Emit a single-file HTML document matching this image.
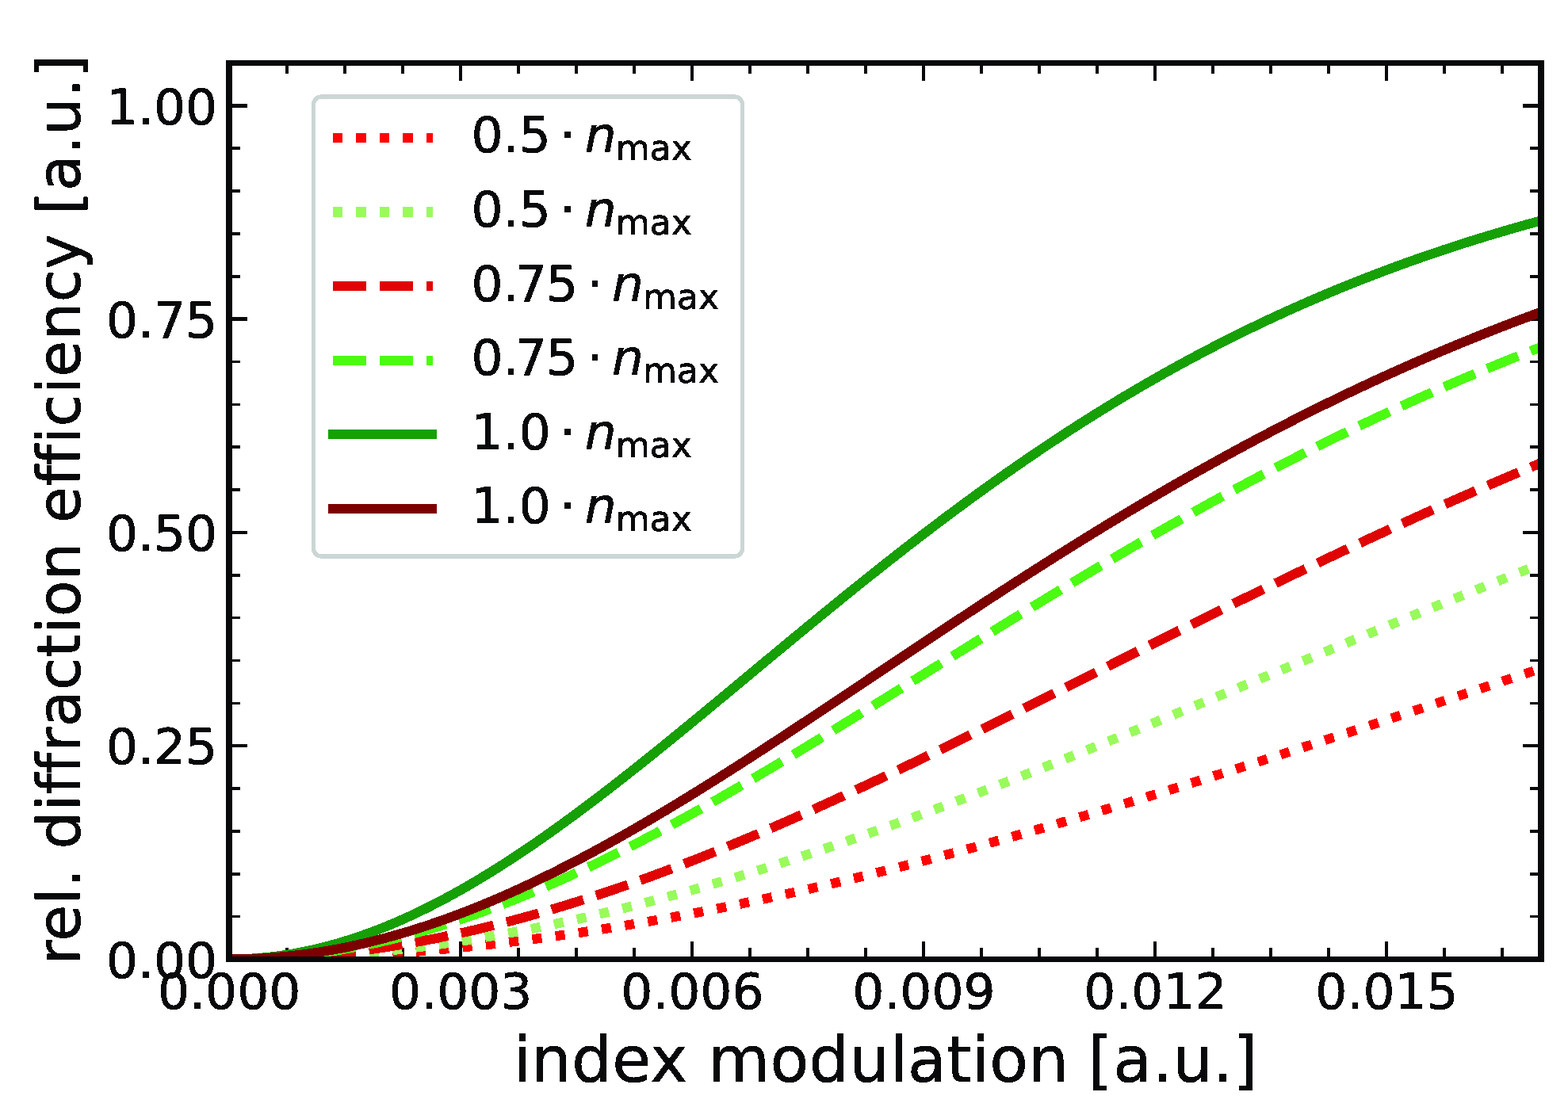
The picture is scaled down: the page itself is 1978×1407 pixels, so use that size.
<!DOCTYPE html>
<html lang="en"><head><meta charset="utf-8"><title>rel. diffraction efficiency vs index modulation</title>
<style>html,body{margin:0;padding:0;background:#fff;}body{width:1978px;height:1407px;overflow:hidden;}svg{display:block;}text{font-family:'DejaVu Sans','Liberation Sans',sans-serif;fill:#08090b;stroke:none;stroke-linejoin:round;font-variant-ligatures:none;}</style>
</head><body>
<svg width="1978" height="1407" viewBox="0 0 1978 1407">
<rect x="0" y="0" width="1978" height="1407" fill="#ffffff"/>
<defs><clipPath id="ax"><rect x="289.00" y="79.50" width="1655.00" height="1131.00"/></clipPath>
<filter id="hard" x="-1%" y="-1%" width="102%" height="102%" filterUnits="objectBoundingBox" color-interpolation-filters="sRGB"><feComponentTransfer><feFuncA type="discrete" tableValues="0 1 1 1 1 1 1 1 1 1 1 1"/></feComponentTransfer></filter>
<filter id="hardv" x="-2%" y="-1%" width="104%" height="102%" filterUnits="objectBoundingBox" color-interpolation-filters="sRGB"><feOffset in="SourceGraphic" dx="-1" dy="0" result="a"/><feMerge result="m"><feMergeNode in="a"/><feMergeNode in="SourceGraphic"/></feMerge><feComponentTransfer in="m"><feFuncA type="discrete" tableValues="0 0 1 1 1 1"/></feComponentTransfer></filter>
</defs>
<g stroke="#08090b" fill="none" shape-rendering="crispEdges">
<path d="M289.00 1210.50 v-22.80 M289.00 79.50 v22.80" stroke-width="4.4"/>
<path d="M362.01 1210.50 v-14.20 M362.01 79.50 v13.50" stroke-width="3.7"/>
<path d="M435.03 1210.50 v-14.20 M435.03 79.50 v13.50" stroke-width="3.7"/>
<path d="M508.04 1210.50 v-14.20 M508.04 79.50 v13.50" stroke-width="3.7"/>
<path d="M581.06 1210.50 v-22.80 M581.06 79.50 v22.80" stroke-width="4.4"/>
<path d="M654.07 1210.50 v-14.20 M654.07 79.50 v13.50" stroke-width="3.7"/>
<path d="M727.09 1210.50 v-14.20 M727.09 79.50 v13.50" stroke-width="3.7"/>
<path d="M800.10 1210.50 v-14.20 M800.10 79.50 v13.50" stroke-width="3.7"/>
<path d="M873.12 1210.50 v-22.80 M873.12 79.50 v22.80" stroke-width="4.4"/>
<path d="M946.13 1210.50 v-14.20 M946.13 79.50 v13.50" stroke-width="3.7"/>
<path d="M1019.15 1210.50 v-14.20 M1019.15 79.50 v13.50" stroke-width="3.7"/>
<path d="M1092.16 1210.50 v-14.20 M1092.16 79.50 v13.50" stroke-width="3.7"/>
<path d="M1165.18 1210.50 v-22.80 M1165.18 79.50 v22.80" stroke-width="4.4"/>
<path d="M1238.19 1210.50 v-14.20 M1238.19 79.50 v13.50" stroke-width="3.7"/>
<path d="M1311.21 1210.50 v-14.20 M1311.21 79.50 v13.50" stroke-width="3.7"/>
<path d="M1384.22 1210.50 v-14.20 M1384.22 79.50 v13.50" stroke-width="3.7"/>
<path d="M1457.24 1210.50 v-22.80 M1457.24 79.50 v22.80" stroke-width="4.4"/>
<path d="M1530.25 1210.50 v-14.20 M1530.25 79.50 v13.50" stroke-width="3.7"/>
<path d="M1603.26 1210.50 v-14.20 M1603.26 79.50 v13.50" stroke-width="3.7"/>
<path d="M1676.28 1210.50 v-14.20 M1676.28 79.50 v13.50" stroke-width="3.7"/>
<path d="M1749.29 1210.50 v-22.80 M1749.29 79.50 v22.80" stroke-width="4.4"/>
<path d="M1822.31 1210.50 v-14.20 M1822.31 79.50 v13.50" stroke-width="3.7"/>
<path d="M1895.32 1210.50 v-14.20 M1895.32 79.50 v13.50" stroke-width="3.7"/>
<path d="M289.00 1210.50 h22.80 M1944.00 1210.50 h-22.80" stroke-width="4.4"/>
<path d="M289.00 1156.64 h14.20 M1944.00 1156.64 h-14.20" stroke-width="3.7"/>
<path d="M289.00 1102.79 h14.20 M1944.00 1102.79 h-14.20" stroke-width="3.7"/>
<path d="M289.00 1048.93 h14.20 M1944.00 1048.93 h-14.20" stroke-width="3.7"/>
<path d="M289.00 995.07 h14.20 M1944.00 995.07 h-14.20" stroke-width="3.7"/>
<path d="M289.00 941.21 h22.80 M1944.00 941.21 h-22.80" stroke-width="4.4"/>
<path d="M289.00 887.36 h14.20 M1944.00 887.36 h-14.20" stroke-width="3.7"/>
<path d="M289.00 833.50 h14.20 M1944.00 833.50 h-14.20" stroke-width="3.7"/>
<path d="M289.00 779.64 h14.20 M1944.00 779.64 h-14.20" stroke-width="3.7"/>
<path d="M289.00 725.79 h14.20 M1944.00 725.79 h-14.20" stroke-width="3.7"/>
<path d="M289.00 671.93 h22.80 M1944.00 671.93 h-22.80" stroke-width="4.4"/>
<path d="M289.00 618.07 h14.20 M1944.00 618.07 h-14.20" stroke-width="3.7"/>
<path d="M289.00 564.21 h14.20 M1944.00 564.21 h-14.20" stroke-width="3.7"/>
<path d="M289.00 510.36 h14.20 M1944.00 510.36 h-14.20" stroke-width="3.7"/>
<path d="M289.00 456.50 h14.20 M1944.00 456.50 h-14.20" stroke-width="3.7"/>
<path d="M289.00 402.64 h22.80 M1944.00 402.64 h-22.80" stroke-width="4.4"/>
<path d="M289.00 348.79 h14.20 M1944.00 348.79 h-14.20" stroke-width="3.7"/>
<path d="M289.00 294.93 h14.20 M1944.00 294.93 h-14.20" stroke-width="3.7"/>
<path d="M289.00 241.07 h14.20 M1944.00 241.07 h-14.20" stroke-width="3.7"/>
<path d="M289.00 187.21 h14.20 M1944.00 187.21 h-14.20" stroke-width="3.7"/>
<path d="M289.00 133.36 h22.80 M1944.00 133.36 h-22.80" stroke-width="4.4"/>
<path d="M289.00 79.50 h14.20 M1944.00 79.50 h-14.20" stroke-width="3.7"/>
</g>
<g clip-path="url(#ax)" fill="none" stroke-width="12.13" stroke-linejoin="round" shape-rendering="crispEdges">
<path d="M289.00 1210.50 L295.90 1210.49 L302.79 1210.47 L309.69 1210.42 L316.58 1210.37 L323.48 1210.29 L330.38 1210.20 L337.27 1210.09 L344.17 1209.97 L351.06 1209.82 L357.96 1209.67 L364.85 1209.49 L371.75 1209.30 L378.65 1209.09 L385.54 1208.87 L392.44 1208.62 L399.33 1208.37 L406.23 1208.09 L413.12 1207.80 L420.02 1207.49 L426.92 1207.17 L433.81 1206.83 L440.71 1206.47 L447.60 1206.10 L454.50 1205.71 L461.40 1205.30 L468.29 1204.88 L475.19 1204.44 L482.08 1203.98 L488.98 1203.51 L495.88 1203.02 L502.77 1202.52 L509.67 1202.00 L516.56 1201.46 L523.46 1200.91 L530.35 1200.34 L537.25 1199.75 L544.15 1199.15 L551.04 1198.53 L557.94 1197.90 L564.83 1197.25 L571.73 1196.59 L578.62 1195.91 L585.52 1195.21 L592.42 1194.50 L599.31 1193.77 L606.21 1193.02 L613.10 1192.27 L620.00 1191.49 L626.90 1190.70 L633.79 1189.89 L640.69 1189.07 L647.58 1188.24 L654.48 1187.38 L661.38 1186.52 L668.27 1185.63 L675.17 1184.74 L682.06 1183.82 L688.96 1182.89 L695.85 1181.95 L702.75 1180.99 L709.65 1180.02 L716.54 1179.03 L723.44 1178.03 L730.33 1177.01 L737.23 1175.98 L744.12 1174.93 L751.02 1173.87 L757.92 1172.80 L764.81 1171.71 L771.71 1170.60 L778.60 1169.48 L785.50 1168.35 L792.40 1167.20 L799.29 1166.04 L806.19 1164.87 L813.08 1163.68 L819.98 1162.48 L826.88 1161.26 L833.77 1160.03 L840.67 1158.78 L847.56 1157.53 L854.46 1156.25 L861.35 1154.97 L868.25 1153.67 L875.15 1152.36 L882.04 1151.03 L888.94 1149.70 L895.83 1148.35 L902.73 1146.98 L909.62 1145.60 L916.52 1144.21 L923.42 1142.81 L930.31 1141.40 L937.21 1139.97 L944.10 1138.53 L951.00 1137.08 L957.90 1135.61 L964.79 1134.13 L971.69 1132.64 L978.58 1131.14 L985.48 1129.63 L992.38 1128.10 L999.27 1126.56 L1006.17 1125.01 L1013.06 1123.45 L1019.96 1121.88 L1026.85 1120.29 L1033.75 1118.70 L1040.65 1117.09 L1047.54 1115.47 L1054.44 1113.84 L1061.33 1112.20 L1068.23 1110.55 L1075.12 1108.89 L1082.02 1107.21 L1088.92 1105.53 L1095.81 1103.83 L1102.71 1102.13 L1109.60 1100.41 L1116.50 1098.68 L1123.40 1096.95 L1130.29 1095.20 L1137.19 1093.44 L1144.08 1091.67 L1150.98 1089.90 L1157.88 1088.11 L1164.77 1086.31 L1171.67 1084.51 L1178.56 1082.69 L1185.46 1080.87 L1192.35 1079.03 L1199.25 1077.19 L1206.15 1075.33 L1213.04 1073.47 L1219.94 1071.60 L1226.83 1069.72 L1233.73 1067.83 L1240.62 1065.93 L1247.52 1064.02 L1254.42 1062.11 L1261.31 1060.18 L1268.21 1058.25 L1275.10 1056.31 L1282.00 1054.36 L1288.90 1052.41 L1295.79 1050.44 L1302.69 1048.47 L1309.58 1046.49 L1316.48 1044.50 L1323.38 1042.51 L1330.27 1040.50 L1337.17 1038.49 L1344.06 1036.48 L1350.96 1034.45 L1357.85 1032.42 L1364.75 1030.38 L1371.65 1028.33 L1378.54 1026.28 L1385.44 1024.22 L1392.33 1022.16 L1399.23 1020.08 L1406.12 1018.00 L1413.02 1015.92 L1419.92 1013.83 L1426.81 1011.73 L1433.71 1009.62 L1440.60 1007.51 L1447.50 1005.40 L1454.40 1003.28 L1461.29 1001.15 L1468.19 999.02 L1475.08 996.88 L1481.98 994.73 L1488.88 992.58 L1495.77 990.43 L1502.67 988.27 L1509.56 986.11 L1516.46 983.94 L1523.35 981.76 L1530.25 979.58 L1537.15 977.40 L1544.04 975.21 L1550.94 973.02 L1557.83 970.82 L1564.73 968.62 L1571.62 966.41 L1578.52 964.20 L1585.42 961.99 L1592.31 959.77 L1599.21 957.55 L1606.10 955.32 L1613.00 953.09 L1619.90 950.86 L1626.79 948.62 L1633.69 946.38 L1640.58 944.14 L1647.48 941.89 L1654.38 939.64 L1661.27 937.39 L1668.17 935.13 L1675.06 932.87 L1681.96 930.61 L1688.85 928.35 L1695.75 926.08 L1702.65 923.81 L1709.54 921.54 L1716.44 919.27 L1723.33 916.99 L1730.23 914.71 L1737.12 912.43 L1744.02 910.15 L1750.92 907.86 L1757.81 905.57 L1764.71 903.29 L1771.60 900.99 L1778.50 898.70 L1785.40 896.41 L1792.29 894.11 L1799.19 891.82 L1806.08 889.52 L1812.98 887.22 L1819.88 884.92 L1826.77 882.62 L1833.67 880.32 L1840.56 878.01 L1847.46 875.71 L1854.35 873.40 L1861.25 871.10 L1868.15 868.79 L1875.04 866.49 L1881.94 864.18 L1888.83 861.87 L1895.73 859.56 L1902.62 857.26 L1909.52 854.95 L1916.42 852.64 L1923.31 850.33 L1930.21 848.02 L1937.10 845.71 L1944.00 843.40" stroke="#ff0404" stroke-dasharray="12.13 17.37"/>
<path d="M289.00 1210.50 L295.90 1210.49 L302.79 1210.45 L309.69 1210.38 L316.58 1210.29 L323.48 1210.18 L330.38 1210.04 L337.27 1209.87 L344.17 1209.68 L351.06 1209.46 L357.96 1209.21 L364.85 1208.94 L371.75 1208.65 L378.65 1208.33 L385.54 1207.98 L392.44 1207.61 L399.33 1207.21 L406.23 1206.78 L413.12 1206.34 L420.02 1205.86 L426.92 1205.36 L433.81 1204.84 L440.71 1204.29 L447.60 1203.71 L454.50 1203.11 L461.40 1202.49 L468.29 1201.84 L475.19 1201.16 L482.08 1200.46 L488.98 1199.74 L495.88 1198.99 L502.77 1198.21 L509.67 1197.41 L516.56 1196.59 L523.46 1195.74 L530.35 1194.87 L537.25 1193.97 L544.15 1193.05 L551.04 1192.10 L557.94 1191.14 L564.83 1190.14 L571.73 1189.13 L578.62 1188.08 L585.52 1187.02 L592.42 1185.93 L599.31 1184.82 L606.21 1183.69 L613.10 1182.53 L620.00 1181.35 L626.90 1180.14 L633.79 1178.92 L640.69 1177.67 L647.58 1176.39 L654.48 1175.10 L661.38 1173.78 L668.27 1172.44 L675.17 1171.08 L682.06 1169.69 L688.96 1168.29 L695.85 1166.86 L702.75 1165.41 L709.65 1163.94 L716.54 1162.45 L723.44 1160.93 L730.33 1159.40 L737.23 1157.84 L744.12 1156.26 L751.02 1154.66 L757.92 1153.05 L764.81 1151.41 L771.71 1149.75 L778.60 1148.07 L785.50 1146.37 L792.40 1144.65 L799.29 1142.91 L806.19 1141.15 L813.08 1139.37 L819.98 1137.57 L826.88 1135.75 L833.77 1133.92 L840.67 1132.06 L847.56 1130.19 L854.46 1128.30 L861.35 1126.39 L868.25 1124.46 L875.15 1122.51 L882.04 1120.55 L888.94 1118.56 L895.83 1116.56 L902.73 1114.55 L909.62 1112.51 L916.52 1110.46 L923.42 1108.39 L930.31 1106.31 L937.21 1104.21 L944.10 1102.09 L951.00 1099.95 L957.90 1097.80 L964.79 1095.64 L971.69 1093.46 L978.58 1091.26 L985.48 1089.05 L992.38 1086.82 L999.27 1084.58 L1006.17 1082.32 L1013.06 1080.05 L1019.96 1077.76 L1026.85 1075.46 L1033.75 1073.15 L1040.65 1070.82 L1047.54 1068.48 L1054.44 1066.12 L1061.33 1063.75 L1068.23 1061.37 L1075.12 1058.98 L1082.02 1056.57 L1088.92 1054.15 L1095.81 1051.71 L1102.71 1049.27 L1109.60 1046.81 L1116.50 1044.34 L1123.40 1041.86 L1130.29 1039.37 L1137.19 1036.87 L1144.08 1034.35 L1150.98 1031.82 L1157.88 1029.29 L1164.77 1026.74 L1171.67 1024.18 L1178.56 1021.61 L1185.46 1019.04 L1192.35 1016.45 L1199.25 1013.85 L1206.15 1011.24 L1213.04 1008.63 L1219.94 1006.00 L1226.83 1003.37 L1233.73 1000.72 L1240.62 998.07 L1247.52 995.41 L1254.42 992.74 L1261.31 990.06 L1268.21 987.38 L1275.10 984.69 L1282.00 981.99 L1288.90 979.28 L1295.79 976.56 L1302.69 973.84 L1309.58 971.11 L1316.48 968.38 L1323.38 965.64 L1330.27 962.89 L1337.17 960.13 L1344.06 957.37 L1350.96 954.61 L1357.85 951.84 L1364.75 949.06 L1371.65 946.28 L1378.54 943.49 L1385.44 940.70 L1392.33 937.90 L1399.23 935.10 L1406.12 932.29 L1413.02 929.48 L1419.92 926.66 L1426.81 923.84 L1433.71 921.02 L1440.60 918.20 L1447.50 915.37 L1454.40 912.53 L1461.29 909.70 L1468.19 906.86 L1475.08 904.01 L1481.98 901.17 L1488.88 898.32 L1495.77 895.47 L1502.67 892.62 L1509.56 889.76 L1516.46 886.91 L1523.35 884.05 L1530.25 881.19 L1537.15 878.33 L1544.04 875.47 L1550.94 872.60 L1557.83 869.74 L1564.73 866.87 L1571.62 864.01 L1578.52 861.14 L1585.42 858.27 L1592.31 855.41 L1599.21 852.54 L1606.10 849.67 L1613.00 846.80 L1619.90 843.93 L1626.79 841.07 L1633.69 838.20 L1640.58 835.33 L1647.48 832.47 L1654.38 829.60 L1661.27 826.74 L1668.17 823.88 L1675.06 821.02 L1681.96 818.16 L1688.85 815.30 L1695.75 812.44 L1702.65 809.59 L1709.54 806.73 L1716.44 803.88 L1723.33 801.03 L1730.23 798.19 L1737.12 795.34 L1744.02 792.50 L1750.92 789.66 L1757.81 786.83 L1764.71 783.99 L1771.60 781.16 L1778.50 778.33 L1785.40 775.51 L1792.29 772.69 L1799.19 769.87 L1806.08 767.06 L1812.98 764.25 L1819.88 761.44 L1826.77 758.63 L1833.67 755.84 L1840.56 753.04 L1847.46 750.25 L1854.35 747.46 L1861.25 744.68 L1868.15 741.90 L1875.04 739.12 L1881.94 736.35 L1888.83 733.59 L1895.73 730.83 L1902.62 728.07 L1909.52 725.32 L1916.42 722.58 L1923.31 719.84 L1930.21 717.10 L1937.10 714.37 L1944.00 711.65" stroke="#99fa5c" stroke-dasharray="12.13 17.37"/>
<path d="M289.00 1210.50 L295.90 1210.48 L302.79 1210.42 L309.69 1210.33 L316.58 1210.20 L323.48 1210.03 L330.38 1209.82 L337.27 1209.58 L344.17 1209.30 L351.06 1208.98 L357.96 1208.62 L364.85 1208.23 L371.75 1207.80 L378.65 1207.33 L385.54 1206.83 L392.44 1206.28 L399.33 1205.71 L406.23 1205.09 L413.12 1204.44 L420.02 1203.75 L426.92 1203.02 L433.81 1202.26 L440.71 1201.46 L447.60 1200.62 L454.50 1199.75 L461.40 1198.84 L468.29 1197.90 L475.19 1196.92 L482.08 1195.91 L488.98 1194.85 L495.88 1193.77 L502.77 1192.65 L509.67 1191.49 L516.56 1190.30 L523.46 1189.07 L530.35 1187.81 L537.25 1186.52 L544.15 1185.19 L551.04 1183.82 L557.94 1182.42 L564.83 1180.99 L571.73 1179.53 L578.62 1178.03 L585.52 1176.50 L592.42 1174.93 L599.31 1173.34 L606.21 1171.71 L613.10 1170.05 L620.00 1168.35 L626.90 1166.63 L633.79 1164.87 L640.69 1163.08 L647.58 1161.26 L654.48 1159.41 L661.38 1157.53 L668.27 1155.61 L675.17 1153.67 L682.06 1151.70 L688.96 1149.70 L695.85 1147.67 L702.75 1145.60 L709.65 1143.52 L716.54 1141.40 L723.44 1139.25 L730.33 1137.08 L737.23 1134.87 L744.12 1132.64 L751.02 1130.38 L757.92 1128.10 L764.81 1125.79 L771.71 1123.45 L778.60 1121.09 L785.50 1118.70 L792.40 1116.28 L799.29 1113.84 L806.19 1111.38 L813.08 1108.89 L819.98 1106.37 L826.88 1103.83 L833.77 1101.27 L840.67 1098.68 L847.56 1096.07 L854.46 1093.44 L861.35 1090.79 L868.25 1088.11 L875.15 1085.41 L882.04 1082.69 L888.94 1079.95 L895.83 1077.19 L902.73 1074.40 L909.62 1071.60 L916.52 1068.77 L923.42 1065.93 L930.31 1063.07 L937.21 1060.18 L944.10 1057.28 L951.00 1054.36 L957.90 1051.43 L964.79 1048.47 L971.69 1045.50 L978.58 1042.51 L985.48 1039.50 L992.38 1036.48 L999.27 1033.44 L1006.17 1030.38 L1013.06 1027.31 L1019.96 1024.22 L1026.85 1021.12 L1033.75 1018.00 L1040.65 1014.87 L1047.54 1011.73 L1054.44 1008.57 L1061.33 1005.40 L1068.23 1002.21 L1075.12 999.02 L1082.02 995.81 L1088.92 992.58 L1095.81 989.35 L1102.71 986.11 L1109.60 982.85 L1116.50 979.58 L1123.40 976.30 L1130.29 973.02 L1137.19 969.72 L1144.08 966.41 L1150.98 963.09 L1157.88 959.77 L1164.77 956.43 L1171.67 953.09 L1178.56 949.74 L1185.46 946.38 L1192.35 943.01 L1199.25 939.64 L1206.15 936.26 L1213.04 932.87 L1219.94 929.48 L1226.83 926.08 L1233.73 922.68 L1240.62 919.27 L1247.52 915.85 L1254.42 912.43 L1261.31 909.00 L1268.21 905.57 L1275.10 902.14 L1282.00 898.70 L1288.90 895.26 L1295.79 891.82 L1302.69 888.37 L1309.58 884.92 L1316.48 881.47 L1323.38 878.01 L1330.27 874.56 L1337.17 871.10 L1344.06 867.64 L1350.96 864.18 L1357.85 860.72 L1364.75 857.26 L1371.65 853.79 L1378.54 850.33 L1385.44 846.87 L1392.33 843.40 L1399.23 839.94 L1406.12 836.48 L1413.02 833.02 L1419.92 829.56 L1426.81 826.11 L1433.71 822.65 L1440.60 819.20 L1447.50 815.75 L1454.40 812.30 L1461.29 808.85 L1468.19 805.41 L1475.08 801.96 L1481.98 798.53 L1488.88 795.09 L1495.77 791.66 L1502.67 788.24 L1509.56 784.81 L1516.46 781.39 L1523.35 777.98 L1530.25 774.57 L1537.15 771.17 L1544.04 767.77 L1550.94 764.37 L1557.83 760.98 L1564.73 757.60 L1571.62 754.22 L1578.52 750.85 L1585.42 747.48 L1592.31 744.12 L1599.21 740.77 L1606.10 737.42 L1613.00 734.08 L1619.90 730.75 L1626.79 727.42 L1633.69 724.10 L1640.58 720.79 L1647.48 717.49 L1654.38 714.19 L1661.27 710.90 L1668.17 707.62 L1675.06 704.35 L1681.96 701.08 L1688.85 697.82 L1695.75 694.58 L1702.65 691.34 L1709.54 688.11 L1716.44 684.88 L1723.33 681.67 L1730.23 678.47 L1737.12 675.27 L1744.02 672.08 L1750.92 668.91 L1757.81 665.74 L1764.71 662.58 L1771.60 659.44 L1778.50 656.30 L1785.40 653.17 L1792.29 650.05 L1799.19 646.94 L1806.08 643.85 L1812.98 640.76 L1819.88 637.68 L1826.77 634.62 L1833.67 631.56 L1840.56 628.51 L1847.46 625.48 L1854.35 622.46 L1861.25 619.44 L1868.15 616.44 L1875.04 613.45 L1881.94 610.47 L1888.83 607.50 L1895.73 604.54 L1902.62 601.60 L1909.52 598.66 L1916.42 595.74 L1923.31 592.83 L1930.21 589.93 L1937.10 587.04 L1944.00 584.16" stroke="#e00404" stroke-dasharray="42.2 16.8"/>
<path d="M289.00 1210.50 L295.90 1210.47 L302.79 1210.38 L309.69 1210.24 L316.58 1210.04 L323.48 1209.78 L330.38 1209.46 L337.27 1209.08 L344.17 1208.65 L351.06 1208.15 L357.96 1207.61 L364.85 1207.00 L371.75 1206.34 L378.65 1205.61 L385.54 1204.84 L392.44 1204.00 L399.33 1203.11 L406.23 1202.16 L413.12 1201.16 L420.02 1200.10 L426.92 1198.99 L433.81 1197.81 L440.71 1196.59 L447.60 1195.31 L454.50 1193.97 L461.40 1192.58 L468.29 1191.14 L475.19 1189.64 L482.08 1188.08 L488.98 1186.48 L495.88 1184.82 L502.77 1183.11 L509.67 1181.35 L516.56 1179.53 L523.46 1177.67 L530.35 1175.75 L537.25 1173.78 L544.15 1171.76 L551.04 1169.69 L557.94 1167.58 L564.83 1165.41 L571.73 1163.19 L578.62 1160.93 L585.52 1158.62 L592.42 1156.26 L599.31 1153.86 L606.21 1151.41 L613.10 1148.91 L620.00 1146.37 L626.90 1143.78 L633.79 1141.15 L640.69 1138.47 L647.58 1135.75 L654.48 1132.99 L661.38 1130.19 L668.27 1127.34 L675.17 1124.46 L682.06 1121.53 L688.96 1118.56 L695.85 1115.56 L702.75 1112.51 L709.65 1109.43 L716.54 1106.31 L723.44 1103.15 L730.33 1099.95 L737.23 1096.72 L744.12 1093.46 L751.02 1090.16 L757.92 1086.82 L764.81 1083.45 L771.71 1080.05 L778.60 1076.61 L785.50 1073.15 L792.40 1069.65 L799.29 1066.12 L806.19 1062.56 L813.08 1058.98 L819.98 1055.36 L826.88 1051.71 L833.77 1048.04 L840.67 1044.34 L847.56 1040.62 L854.46 1036.87 L861.35 1033.09 L868.25 1029.29 L875.15 1025.46 L882.04 1021.61 L888.94 1017.74 L895.83 1013.85 L902.73 1009.94 L909.62 1006.00 L916.52 1002.05 L923.42 998.07 L930.31 994.08 L937.21 990.06 L944.10 986.03 L951.00 981.99 L957.90 977.92 L964.79 973.84 L971.69 969.75 L978.58 965.64 L985.48 961.51 L992.38 957.37 L999.27 953.22 L1006.17 949.06 L1013.06 944.88 L1019.96 940.70 L1026.85 936.50 L1033.75 932.29 L1040.65 928.07 L1047.54 923.84 L1054.44 919.61 L1061.33 915.37 L1068.23 911.11 L1075.12 906.86 L1082.02 902.59 L1088.92 898.32 L1095.81 894.05 L1102.71 889.76 L1109.60 885.48 L1116.50 881.19 L1123.40 876.90 L1130.29 872.60 L1137.19 868.31 L1144.08 864.01 L1150.98 859.71 L1157.88 855.41 L1164.77 851.10 L1171.67 846.80 L1178.56 842.50 L1185.46 838.20 L1192.35 833.90 L1199.25 829.60 L1206.15 825.31 L1213.04 821.02 L1219.94 816.73 L1226.83 812.44 L1233.73 808.16 L1240.62 803.88 L1247.52 799.61 L1254.42 795.34 L1261.31 791.08 L1268.21 786.83 L1275.10 782.58 L1282.00 778.33 L1288.90 774.10 L1295.79 769.87 L1302.69 765.65 L1309.58 761.44 L1316.48 757.23 L1323.38 753.04 L1330.27 748.85 L1337.17 744.68 L1344.06 740.51 L1350.96 736.35 L1357.85 732.21 L1364.75 728.07 L1371.65 723.95 L1378.54 719.84 L1385.44 715.73 L1392.33 711.65 L1399.23 707.57 L1406.12 703.50 L1413.02 699.45 L1419.92 695.41 L1426.81 691.38 L1433.71 687.37 L1440.60 683.37 L1447.50 679.39 L1454.40 675.41 L1461.29 671.46 L1468.19 667.52 L1475.08 663.59 L1481.98 659.67 L1488.88 655.78 L1495.77 651.89 L1502.67 648.03 L1509.56 644.18 L1516.46 640.34 L1523.35 636.52 L1530.25 632.72 L1537.15 628.93 L1544.04 625.16 L1550.94 621.41 L1557.83 617.67 L1564.73 613.95 L1571.62 610.25 L1578.52 606.56 L1585.42 602.90 L1592.31 599.24 L1599.21 595.61 L1606.10 592.00 L1613.00 588.40 L1619.90 584.82 L1626.79 581.26 L1633.69 577.72 L1640.58 574.19 L1647.48 570.68 L1654.38 567.20 L1661.27 563.73 L1668.17 560.28 L1675.06 556.84 L1681.96 553.43 L1688.85 550.03 L1695.75 546.66 L1702.65 543.30 L1709.54 539.96 L1716.44 536.64 L1723.33 533.34 L1730.23 530.06 L1737.12 526.80 L1744.02 523.56 L1750.92 520.33 L1757.81 517.13 L1764.71 513.94 L1771.60 510.78 L1778.50 507.63 L1785.40 504.50 L1792.29 501.39 L1799.19 498.31 L1806.08 495.24 L1812.98 492.19 L1819.88 489.15 L1826.77 486.14 L1833.67 483.15 L1840.56 480.18 L1847.46 477.22 L1854.35 474.29 L1861.25 471.38 L1868.15 468.48 L1875.04 465.60 L1881.94 462.75 L1888.83 459.91 L1895.73 457.09 L1902.62 454.29 L1909.52 451.51 L1916.42 448.75 L1923.31 446.00 L1930.21 443.28 L1937.10 440.58 L1944.00 437.89" stroke="#4cfb12" stroke-dasharray="42.2 16.8"/>
<path d="M289.00 1210.50 L295.90 1210.45 L302.79 1210.29 L309.69 1210.04 L316.58 1209.68 L323.48 1209.21 L330.38 1208.65 L337.27 1207.98 L344.17 1207.21 L351.06 1206.34 L357.96 1205.36 L364.85 1204.29 L371.75 1203.11 L378.65 1201.84 L385.54 1200.46 L392.44 1198.99 L399.33 1197.41 L406.23 1195.74 L413.12 1193.97 L420.02 1192.10 L426.92 1190.14 L433.81 1188.08 L440.71 1185.93 L447.60 1183.69 L454.50 1181.35 L461.40 1178.92 L468.29 1176.39 L475.19 1173.78 L482.08 1171.08 L488.98 1168.29 L495.88 1165.41 L502.77 1162.45 L509.67 1159.40 L516.56 1156.26 L523.46 1153.05 L530.35 1149.75 L537.25 1146.37 L544.15 1142.91 L551.04 1139.37 L557.94 1135.75 L564.83 1132.06 L571.73 1128.30 L578.62 1124.46 L585.52 1120.55 L592.42 1116.56 L599.31 1112.51 L606.21 1108.39 L613.10 1104.21 L620.00 1099.95 L626.90 1095.64 L633.79 1091.26 L640.69 1086.82 L647.58 1082.32 L654.48 1077.76 L661.38 1073.15 L668.27 1068.48 L675.17 1063.75 L682.06 1058.98 L688.96 1054.15 L695.85 1049.27 L702.75 1044.34 L709.65 1039.37 L716.54 1034.35 L723.44 1029.29 L730.33 1024.18 L737.23 1019.04 L744.12 1013.85 L751.02 1008.63 L757.92 1003.37 L764.81 998.07 L771.71 992.74 L778.60 987.38 L785.50 981.99 L792.40 976.56 L799.29 971.11 L806.19 965.64 L813.08 960.13 L819.98 954.61 L826.88 949.06 L833.77 943.49 L840.67 937.90 L847.56 932.29 L854.46 926.66 L861.35 921.02 L868.25 915.37 L875.15 909.70 L882.04 904.01 L888.94 898.32 L895.83 892.62 L902.73 886.91 L909.62 881.19 L916.52 875.47 L923.42 869.74 L930.31 864.01 L937.21 858.27 L944.10 852.54 L951.00 846.80 L957.90 841.07 L964.79 835.33 L971.69 829.60 L978.58 823.88 L985.48 818.16 L992.38 812.44 L999.27 806.73 L1006.17 801.03 L1013.06 795.34 L1019.96 789.66 L1026.85 783.99 L1033.75 778.33 L1040.65 772.69 L1047.54 767.06 L1054.44 761.44 L1061.33 755.84 L1068.23 750.25 L1075.12 744.68 L1082.02 739.12 L1088.92 733.59 L1095.81 728.07 L1102.71 722.58 L1109.60 717.10 L1116.50 711.65 L1123.40 706.21 L1130.29 700.80 L1137.19 695.41 L1144.08 690.04 L1150.98 684.70 L1157.88 679.39 L1164.77 674.09 L1171.67 668.83 L1178.56 663.59 L1185.46 658.37 L1192.35 653.19 L1199.25 648.03 L1206.15 642.90 L1213.04 637.79 L1219.94 632.72 L1226.83 627.67 L1233.73 622.66 L1240.62 617.67 L1247.52 612.72 L1254.42 607.79 L1261.31 602.90 L1268.21 598.03 L1275.10 593.20 L1282.00 588.40 L1288.90 583.63 L1295.79 578.90 L1302.69 574.19 L1309.58 569.52 L1316.48 564.88 L1323.38 560.28 L1330.27 555.70 L1337.17 551.16 L1344.06 546.66 L1350.96 542.19 L1357.85 537.75 L1364.75 533.34 L1371.65 528.97 L1378.54 524.64 L1385.44 520.33 L1392.33 516.06 L1399.23 511.83 L1406.12 507.63 L1413.02 503.46 L1419.92 499.33 L1426.81 495.24 L1433.71 491.17 L1440.60 487.15 L1447.50 483.15 L1454.40 479.19 L1461.29 475.27 L1468.19 471.38 L1475.08 467.52 L1481.98 463.70 L1488.88 459.91 L1495.77 456.15 L1502.67 452.43 L1509.56 448.75 L1516.46 445.09 L1523.35 441.47 L1530.25 437.89 L1537.15 434.34 L1544.04 430.82 L1550.94 427.34 L1557.83 423.88 L1564.73 420.47 L1571.62 417.08 L1578.52 413.73 L1585.42 410.41 L1592.31 407.12 L1599.21 403.87 L1606.10 400.64 L1613.00 397.45 L1619.90 394.29 L1626.79 391.17 L1633.69 388.07 L1640.58 385.01 L1647.48 381.98 L1654.38 378.98 L1661.27 376.01 L1668.17 373.07 L1675.06 370.16 L1681.96 367.28 L1688.85 364.43 L1695.75 361.61 L1702.65 358.82 L1709.54 356.06 L1716.44 353.33 L1723.33 350.63 L1730.23 347.96 L1737.12 345.32 L1744.02 342.71 L1750.92 340.12 L1757.81 337.56 L1764.71 335.03 L1771.60 332.53 L1778.50 330.06 L1785.40 327.61 L1792.29 325.19 L1799.19 322.80 L1806.08 320.43 L1812.98 318.09 L1819.88 315.78 L1826.77 313.49 L1833.67 311.23 L1840.56 309.00 L1847.46 306.79 L1854.35 304.60 L1861.25 302.44 L1868.15 300.30 L1875.04 298.19 L1881.94 296.11 L1888.83 294.04 L1895.73 292.01 L1902.62 289.99 L1909.52 288.00 L1916.42 286.03 L1923.31 284.08 L1930.21 282.16 L1937.10 280.26 L1944.00 278.38" stroke="#16a006"/>
<path d="M289.00 1210.50 L295.90 1210.47 L302.79 1210.37 L309.69 1210.20 L316.58 1209.97 L323.48 1209.67 L330.38 1209.30 L337.27 1208.87 L344.17 1208.37 L351.06 1207.80 L357.96 1207.17 L364.85 1206.47 L371.75 1205.71 L378.65 1204.88 L385.54 1203.98 L392.44 1203.02 L399.33 1202.00 L406.23 1200.91 L413.12 1199.75 L420.02 1198.53 L426.92 1197.25 L433.81 1195.91 L440.71 1194.50 L447.60 1193.02 L454.50 1191.49 L461.40 1189.89 L468.29 1188.24 L475.19 1186.52 L482.08 1184.74 L488.98 1182.89 L495.88 1180.99 L502.77 1179.03 L509.67 1177.01 L516.56 1174.93 L523.46 1172.80 L530.35 1170.60 L537.25 1168.35 L544.15 1166.04 L551.04 1163.68 L557.94 1161.26 L564.83 1158.78 L571.73 1156.25 L578.62 1153.67 L585.52 1151.03 L592.42 1148.35 L599.31 1145.60 L606.21 1142.81 L613.10 1139.97 L620.00 1137.08 L626.90 1134.13 L633.79 1131.14 L640.69 1128.10 L647.58 1125.01 L654.48 1121.88 L661.38 1118.70 L668.27 1115.47 L675.17 1112.20 L682.06 1108.89 L688.96 1105.53 L695.85 1102.13 L702.75 1098.68 L709.65 1095.20 L716.54 1091.67 L723.44 1088.11 L730.33 1084.51 L737.23 1080.87 L744.12 1077.19 L751.02 1073.47 L757.92 1069.72 L764.81 1065.93 L771.71 1062.11 L778.60 1058.25 L785.50 1054.36 L792.40 1050.44 L799.29 1046.49 L806.19 1042.51 L813.08 1038.49 L819.98 1034.45 L826.88 1030.38 L833.77 1026.28 L840.67 1022.16 L847.56 1018.00 L854.46 1013.83 L861.35 1009.62 L868.25 1005.40 L875.15 1001.15 L882.04 996.88 L888.94 992.58 L895.83 988.27 L902.73 983.94 L909.62 979.58 L916.52 975.21 L923.42 970.82 L930.31 966.41 L937.21 961.99 L944.10 957.55 L951.00 953.09 L957.90 948.62 L964.79 944.14 L971.69 939.64 L978.58 935.13 L985.48 930.61 L992.38 926.08 L999.27 921.54 L1006.17 916.99 L1013.06 912.43 L1019.96 907.86 L1026.85 903.29 L1033.75 898.70 L1040.65 894.11 L1047.54 889.52 L1054.44 884.92 L1061.33 880.32 L1068.23 875.71 L1075.12 871.10 L1082.02 866.49 L1088.92 861.87 L1095.81 857.26 L1102.71 852.64 L1109.60 848.02 L1116.50 843.40 L1123.40 838.79 L1130.29 834.18 L1137.19 829.56 L1144.08 824.95 L1150.98 820.35 L1157.88 815.75 L1164.77 811.15 L1171.67 806.55 L1178.56 801.96 L1185.46 797.38 L1192.35 792.81 L1199.25 788.24 L1206.15 783.67 L1213.04 779.12 L1219.94 774.57 L1226.83 770.03 L1233.73 765.50 L1240.62 760.98 L1247.52 756.47 L1254.42 751.97 L1261.31 747.48 L1268.21 743.01 L1275.10 738.54 L1282.00 734.08 L1288.90 729.64 L1295.79 725.21 L1302.69 720.79 L1309.58 716.39 L1316.48 712.00 L1323.38 707.62 L1330.27 703.26 L1337.17 698.91 L1344.06 694.58 L1350.96 690.26 L1357.85 685.96 L1364.75 681.67 L1371.65 677.40 L1378.54 673.15 L1385.44 668.91 L1392.33 664.69 L1399.23 660.48 L1406.12 656.30 L1413.02 652.13 L1419.92 647.98 L1426.81 643.85 L1433.71 639.73 L1440.60 635.64 L1447.50 631.56 L1454.40 627.50 L1461.29 623.46 L1468.19 619.44 L1475.08 615.44 L1481.98 611.46 L1488.88 607.50 L1495.77 603.56 L1502.67 599.64 L1509.56 595.74 L1516.46 591.86 L1523.35 588.00 L1530.25 584.16 L1537.15 580.34 L1544.04 576.55 L1550.94 572.77 L1557.83 569.02 L1564.73 565.28 L1571.62 561.57 L1578.52 557.88 L1585.42 554.21 L1592.31 550.56 L1599.21 546.94 L1606.10 543.33 L1613.00 539.75 L1619.90 536.19 L1626.79 532.65 L1633.69 529.14 L1640.58 525.64 L1647.48 522.17 L1654.38 518.72 L1661.27 515.29 L1668.17 511.88 L1675.06 508.50 L1681.96 505.14 L1688.85 501.80 L1695.75 498.48 L1702.65 495.19 L1709.54 491.92 L1716.44 488.67 L1723.33 485.44 L1730.23 482.23 L1737.12 479.05 L1744.02 475.89 L1750.92 472.75 L1757.81 469.63 L1764.71 466.54 L1771.60 463.46 L1778.50 460.41 L1785.40 457.38 L1792.29 454.38 L1799.19 451.39 L1806.08 448.43 L1812.98 445.49 L1819.88 442.57 L1826.77 439.68 L1833.67 436.80 L1840.56 433.95 L1847.46 431.12 L1854.35 428.31 L1861.25 425.52 L1868.15 422.75 L1875.04 420.01 L1881.94 417.28 L1888.83 414.58 L1895.73 411.90 L1902.62 409.24 L1909.52 406.60 L1916.42 403.98 L1923.31 401.38 L1930.21 398.81 L1937.10 396.25 L1944.00 393.71" stroke="#7c0000"/>
</g>
<g fill="#08090b" shape-rendering="crispEdges">
<rect x="285" y="76" width="8" height="1138"/>
<rect x="1940" y="76" width="8" height="1138"/>
<rect x="285" y="76" width="1663" height="7"/>
<rect x="285" y="1207" width="1663" height="7"/>
</g>
<g font-size="63" stroke-width="0" text-anchor="middle" filter="url(#hard)">
<text x="289.20" y="1272.90">0.000</text>
<text x="581.26" y="1272.90">0.003</text>
<text x="873.32" y="1272.90">0.006</text>
<text x="1165.38" y="1272.90">0.009</text>
<text x="1457.44" y="1272.90">0.012</text>
<text x="1749.49" y="1272.90">0.015</text>
</g>
<g font-size="63" stroke-width="0" text-anchor="end" filter="url(#hard)">
<text x="274.20" y="1233.70">0.00</text>
<text x="274.20" y="964.41">0.25</text>
<text x="274.20" y="695.13">0.50</text>
<text x="274.20" y="425.84">0.75</text>
<text x="274.20" y="156.56">1.00</text>
</g>
<text x="1117.60" y="1365.20" font-size="79.6" stroke-width="0" letter-spacing="0.43" text-anchor="middle" filter="url(#hard)">index modulation <tspan dx="-1.2">[a.u.]</tspan></text>
<g filter="url(#hardv)"><text transform="translate(101.30 642.95) rotate(-90)" font-size="74.8" stroke-width="0" letter-spacing="0.475" text-anchor="middle" dx="0 0 0 0 0 0 0 0 -0.8 0.8 0 0 0 0 0 0 0 0 0 -0.8 0.8 0 0 0 0 0 0 0 0 0 0 0 0 0">rel. diffraction efficiency [a.u.]</text></g>
<rect x="395.50" y="122.00" width="541.00" height="580.00" rx="10" ry="10" fill="#ffffff" fill-opacity="0.8" stroke="#cbd6d5" stroke-width="5.3" shape-rendering="crispEdges"/>
<g fill="none" stroke-width="12.13" shape-rendering="crispEdges">
<path d="M419.90 173.95 H546.00" stroke="#ff0404" stroke-dasharray="12.13 17.37"/>
<path d="M419.90 267.55 H546.00" stroke="#99fa5c" stroke-dasharray="12.13 17.37"/>
<path d="M419.90 361.15 H546.00" stroke="#e00404" stroke-dasharray="42.2 16.8"/>
<path d="M419.90 454.75 H546.00" stroke="#4cfb12" stroke-dasharray="42.2 16.8"/>
<path d="M413.90 548.35 H551.05" stroke="#16a006"/>
<path d="M413.90 641.95 H551.05" stroke="#7c0000"/>
</g>
<g font-size="63" stroke-width="0" filter="url(#hard)">
<text y="192.30"><tspan x="594.60 634.68 654.71">0.5</tspan><tspan x="706.29">⋅</tspan><tspan x="737.69" font-style="italic">n</tspan><tspan x="776.69" dy="10" font-size="44.1">max</tspan></text>
<text y="285.90"><tspan x="594.60 634.68 654.71">0.5</tspan><tspan x="706.29">⋅</tspan><tspan x="737.69" font-style="italic">n</tspan><tspan x="776.69" dy="10" font-size="44.1">max</tspan></text>
<text y="379.50"><tspan x="594.60 634.68 649.82 689.00">0.75</tspan><tspan x="740.58">⋅</tspan><tspan x="771.98" font-style="italic">n</tspan><tspan x="810.98" dy="10" font-size="44.1">max</tspan></text>
<text y="473.10"><tspan x="594.60 634.68 649.82 689.00">0.75</tspan><tspan x="740.58">⋅</tspan><tspan x="771.98" font-style="italic">n</tspan><tspan x="810.98" dy="10" font-size="44.1">max</tspan></text>
<text y="566.70"><tspan x="594.60 634.68 654.71">1.0</tspan><tspan x="706.29">⋅</tspan><tspan x="737.69" font-style="italic">n</tspan><tspan x="776.69" dy="10" font-size="44.1">max</tspan></text>
<text y="660.30"><tspan x="594.60 634.68 654.71">1.0</tspan><tspan x="706.29">⋅</tspan><tspan x="737.69" font-style="italic">n</tspan><tspan x="776.69" dy="10" font-size="44.1">max</tspan></text>
</g>
</svg></body></html>
